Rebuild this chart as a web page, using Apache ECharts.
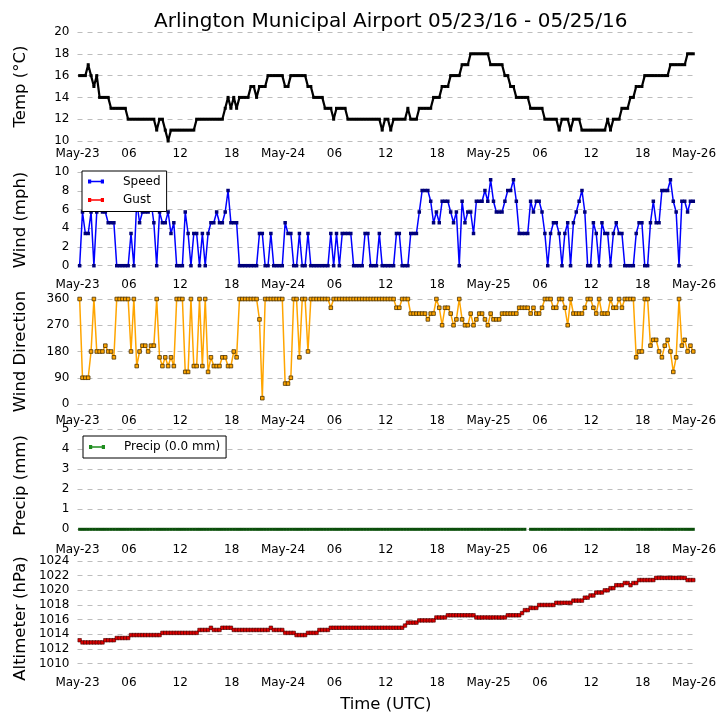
<!DOCTYPE html>
<html><head><meta charset="utf-8">
<script src="https://cdn.jsdelivr.net/npm/echarts@6/dist/echarts.min.js"></script>
<style>html,body{margin:0;padding:0;background:#fff}#c{width:727px;height:725px}</style>
</head><body><div id="c"></div>
<script>
// ---------------- DATA ----------------
// Observations every 20 minutes (AWOS :15, :35, :55) from May-23 00:15 UTC
const obsStartHour = 0.25;      // hours after 2016-05-23 00:00 UTC
const obsStepHour = 1 / 3;      // 20 minutes
const xTickLabels = ['May-23','06','12','18','May-24','06','12','18','May-25','06','12','18','May-26'];

const tempC = [
 16,16,16,17,16,15,16,14,14,14,
 14,13,13,13,13,13,13,12,12,12,
 12,12,12,12,12,12,12,11,12,12,
 11,10,11,11,11,11,11,11,11,11,
 11,12,12,12,12,12,12,12,12,12,
 12,13,14,13,14,13,14,14,14,14,
 15,15,14,15,15,15,16,16,16,16,
 16,16,15,15,16,16,16,16,16,16,
 15,15,14,14,14,14,13,13,13,12,
 13,13,13,13,12,12,12,12,12,12,
 12,12,12,12,12,12,11,12,12,11,
 12,12,12,12,12,13,12,12,12,13,
 13,13,13,13,14,14,14,15,15,15,
 16,16,16,16,17,17,17,18,18,18,
 18,18,18,18,17,17,17,17,17,16,
 16,15,15,14,14,14,14,14,13,13,
 13,13,13,12,12,12,12,12,11,12,
 12,12,11,12,12,12,11,11,11,11,
 11,11,11,11,11,12,11,12,12,12,
 13,13,13,14,14,15,15,15,16,16,
 16,16,16,16,16,16,16,17,17,17,
 17,17,17,18,18,18
];

const windSpeedMph = [
 0,5.75,3.45,3.45,5.75,0,5.75,6.9,5.75,5.75,
 4.6,4.6,4.6,0,0,0,0,0,3.45,0,
 6.9,4.6,5.75,5.75,5.75,6.9,4.6,0,5.75,4.6,
 4.6,5.75,3.45,4.6,0,0,0,5.75,3.45,0,
 3.45,3.45,0,3.45,0,3.45,4.6,4.6,5.75,4.6,
 4.6,5.75,8.05,4.6,4.6,4.6,0,0,0,0,
 0,0,0,3.45,3.45,0,0,3.45,0,0,
 0,0,4.6,3.45,3.45,0,0,3.45,0,0,
 3.45,0,0,0,0,0,0,0,3.45,0,
 3.45,0,3.45,3.45,3.45,3.45,0,0,0,0,
 3.45,3.45,0,0,0,3.45,0,0,0,0,
 0,3.45,3.45,0,0,0,3.45,3.45,3.45,5.75,
 8.05,8.05,8.05,6.9,4.6,5.75,4.6,6.9,6.9,6.9,
 5.75,4.6,5.75,0,6.9,4.6,5.75,5.75,3.45,6.9,
 6.9,6.9,8.05,6.9,9.2,6.9,5.75,5.75,5.75,6.9,
 8.05,8.05,9.2,6.9,3.45,3.45,3.45,3.45,6.9,5.75,
 6.9,6.9,5.75,3.45,0,3.45,4.6,4.6,3.45,0,
 3.45,4.6,0,4.6,5.75,6.9,8.05,5.75,0,0,
 4.6,3.45,0,4.6,3.45,3.45,0,3.45,4.6,3.45,
 3.45,0,0,0,0,3.45,4.6,4.6,0,0,
 4.6,6.9,4.6,4.6,8.05,8.05,8.05,9.2,6.9,5.75,
 0,6.9,6.9,5.75,6.9,6.9
];

const windGustMph = [];   // no gusts reported

const windDirDeg = [
 360,90,90,90,180,360,180,180,180,200,
 180,180,160,360,360,360,360,360,180,360,
 130,180,200,200,180,200,200,360,160,130,
 160,130,160,130,360,360,360,110,110,360,
 130,130,360,130,360,110,160,130,130,130,
 160,160,130,130,180,160,360,360,360,360,
 360,360,360,290,20,360,360,360,360,360,
 360,360,70,70,90,360,360,160,360,360,
 180,360,360,360,360,360,360,360,330,360,
 360,360,360,360,360,360,360,360,360,360,
 360,360,360,360,360,360,360,360,360,360,
 360,330,330,360,360,360,310,310,310,310,
 310,310,290,310,310,360,330,270,330,330,
 310,270,290,360,290,270,270,310,270,290,
 310,310,290,270,310,290,290,290,310,310,
 310,310,310,310,330,330,330,330,310,330,
 310,310,330,360,360,360,330,330,360,360,
 330,270,360,310,310,310,310,330,360,360,
 330,310,360,310,310,310,360,330,330,360,
 330,360,360,360,360,160,180,180,360,360,
 200,220,220,180,160,200,220,180,110,160,
 360,200,220,180,200,180
];

const precipMm = [
 0,0,0,0,0,0,0,0,0,0, 0,0,0,0,0,0,0,0,0,0,
 0,0,0,0,0,0,0,0,0,0, 0,0,0,0,0,0,0,0,0,0,
 0,0,0,0,0,0,0,0,0,0, 0,0,0,0,0,0,0,0,0,0,
 0,0,0,0,0,0,0,0,0,0, 0,0,0,0,0,0,0,0,0,0,
 0,0,0,0,0,0,0,0,0,0, 0,0,0,0,0,0,0,0,0,0,
 0,0,0,0,0,0,0,0,0,0, 0,0,0,0,0,0,0,0,0,0,
 0,0,0,0,0,0,0,0,0,0, 0,0,0,0,0,0,0,0,0,0,
 0,0,0,0,0,0,0,0,0,0, 0,0,0,0,0,0,0,null,0,0,
 0,0,0,0,0,0,0,0,0,0, 0,0,0,0,0,0,0,0,0,0,
 0,0,0,0,0,0,0,0,0,0, 0,0,0,0,0,0,0,0,0,0,
 0,0,0,0,0,0,0,0,0,0, 0,0,0,0,0,0
];
const precipTotalLabel = 'Precip (0.0 mm)';

const altimeterHpa = [
 1013.2,1012.9,1012.9,1012.9,1012.9,1012.9,1012.9,1012.9,1012.9,1013.2,
 1013.2,1013.2,1013.2,1013.5,1013.5,1013.5,1013.5,1013.5,1013.9,1013.9,
 1013.9,1013.9,1013.9,1013.9,1013.9,1013.9,1013.9,1013.9,1013.9,1014.2,
 1014.2,1014.2,1014.2,1014.2,1014.2,1014.2,1014.2,1014.2,1014.2,1014.2,
 1014.2,1014.2,1014.6,1014.6,1014.6,1014.6,1014.9,1014.6,1014.6,1014.6,
 1014.9,1014.9,1014.9,1014.9,1014.6,1014.6,1014.6,1014.6,1014.6,1014.6,
 1014.6,1014.6,1014.6,1014.6,1014.6,1014.6,1014.6,1014.9,1014.6,1014.6,
 1014.6,1014.6,1014.2,1014.2,1014.2,1014.2,1013.9,1013.9,1013.9,1013.9,
 1014.2,1014.2,1014.2,1014.2,1014.6,1014.6,1014.6,1014.6,1014.9,1014.9,
 1014.9,1014.9,1014.9,1014.9,1014.9,1014.9,1014.9,1014.9,1014.9,1014.9,
 1014.9,1014.9,1014.9,1014.9,1014.9,1014.9,1014.9,1014.9,1014.9,1014.9,
 1014.9,1014.9,1014.9,1014.9,1015.2,1015.6,1015.6,1015.6,1015.6,1015.9,
 1015.9,1015.9,1015.9,1015.9,1015.9,1016.3,1016.3,1016.3,1016.3,1016.6,
 1016.6,1016.6,1016.6,1016.6,1016.6,1016.6,1016.6,1016.6,1016.6,1016.3,
 1016.3,1016.3,1016.3,1016.3,1016.3,1016.3,1016.3,1016.3,1016.3,1016.3,
 1016.6,1016.6,1016.6,1016.6,1016.6,1016.9,1017.3,1017.3,1017.6,1017.6,
 1017.6,1018.0,1018.0,1018.0,1018.0,1018.0,1018.0,1018.3,1018.3,1018.3,
 1018.3,1018.3,1018.3,1018.6,1018.6,1018.6,1018.6,1019.0,1019.0,1019.3,
 1019.3,1019.7,1019.7,1019.7,1020.0,1020.0,1020.3,1020.3,1020.7,1020.7,
 1020.7,1021.0,1021.0,1020.7,1021.0,1021.0,1021.4,1021.4,1021.4,1021.4,
 1021.4,1021.4,1021.7,1021.7,1021.7,1021.7,1021.7,1021.7,1021.7,1021.7,
 1021.7,1021.7,1021.7,1021.4,1021.4,1021.4
];

// ---------------- CHART ----------------
const obsHours = tempC.map((_, i) => obsStartHour + i * obsStepHour);
const pairs = vals => vals.map((v, i) => [obsHours[i], v]);

const FONT = 'DejaVu Sans';
const GL = 77.5, GW = 616.5;
const panels = [
  {top: 32,    h: 109,   min: 10,   max: 20,   step: 2,  lm: 7,    title: 'Temp (°C)',       ty: 86.5},
  {top: 172.3, h: 93.4,  min: 0,    max: 10,   step: 2,  lm: 13.5, title: 'Wind (mph)',      ty: 220},
  {top: 299,   h: 105,   min: 0,    max: 360,  step: 90, lm: 10.5, title: 'Wind Direction',  ty: 351.5},
  {top: 429,   h: 100.3, min: 0,    max: 5,    step: 1,  lm: 15,   title: 'Precip (mm)',     ty: 485.5},
  {top: 561,   h: 102.7, min: 1010, max: 1024, step: 2,  lm: 13.5, title: 'Altimeter (hPa)', ty: 618.5}
];

const grid = panels.map(p => ({left: GL, top: p.top, width: GW, height: p.h, containLabel: false}));
const xAxis = panels.map((p, i) => ({
  type: 'value', gridIndex: i, min: 0, max: 72, interval: 6,
  axisLine: {show: false}, axisTick: {show: false}, splitLine: {show: false},
  axisLabel: {
    show: true, margin: p.lm, fontSize: 12, fontFamily: FONT, color: '#000',
    showMinLabel: true, showMaxLabel: true, hideOverlap: false,
    formatter: v => xTickLabels[Math.round(v / 6)] || ''
  }
}));
const yAxis = panels.map((p, i) => ({
  type: 'value', gridIndex: i, min: p.min, max: p.max, interval: p.step,
  axisLine: {show: false}, axisTick: {show: false},
  splitLine: {show: true, lineStyle: {color: '#bdbdbd', width: 1, type: [5, 5]}},
  axisLabel: {margin: 8, fontSize: 12, fontFamily: FONT, color: '#000', formatter: v => String(v)}
}));

const legendIcon = 'path://M0,0H8V10H0ZM4,3.1H36V6.9H4ZM32,0H40V10H32Z';

const series = [
  {name: 'Temp', type: 'line', xAxisIndex: 0, yAxisIndex: 0, data: pairs(tempC),
   symbol: 'rect', symbolSize: 3, clip: false,
   lineStyle: {color: '#000', width: 2.2}, itemStyle: {color: '#000'}},
  {name: 'Speed', type: 'line', xAxisIndex: 1, yAxisIndex: 1, data: pairs(windSpeedMph),
   symbol: 'rect', symbolSize: 3.5, clip: false,
   lineStyle: {color: '#0000ff', width: 1.5}, itemStyle: {color: '#00007a'}},
  {name: 'Gust', type: 'line', xAxisIndex: 1, yAxisIndex: 1, data: pairs(windGustMph),
   symbol: 'rect', symbolSize: 3.5, clip: false,
   lineStyle: {color: '#ff0000', width: 1.5}, itemStyle: {color: '#ff0000'}},
  {name: 'Direction', type: 'line', xAxisIndex: 2, yAxisIndex: 2, data: pairs(windDirDeg),
   symbol: 'rect', symbolSize: 3.6, clip: false,
   lineStyle: {color: '#ffa500', width: 1.5},
   itemStyle: {color: '#ffa500', borderColor: '#4d3200', borderWidth: 0.8}},
  {name: precipTotalLabel, type: 'line', xAxisIndex: 3, yAxisIndex: 3, data: pairs(precipMm),
   symbol: 'rect', symbolSize: 3, clip: false, connectNulls: false,
   lineStyle: {color: '#1e8c1e', width: 2}, itemStyle: {color: '#0b4d0b'}},
  {name: 'Altimeter', type: 'line', xAxisIndex: 4, yAxisIndex: 4, data: pairs(altimeterHpa),
   symbol: 'rect', symbolSize: 3.5, clip: false,
   lineStyle: {color: '#ff0000', width: 2},
   itemStyle: {color: '#e00000', borderColor: '#400000', borderWidth: 0.6}}
];

const legendCommon = {
  orient: 'vertical', backgroundColor: '#fff', borderColor: '#000', borderWidth: 1, borderRadius: 0,
  itemWidth: 20, itemHeight: 4, icon: legendIcon, selectedMode: false,
  textStyle: {fontSize: 12, fontFamily: FONT, color: '#000', padding: [0, 0, 0, 12], lineHeight: 12}
};
const legend = [
  Object.assign({}, legendCommon, {
    left: 82, top: 171, padding: [4.5, 6, 5.5, 6], itemGap: 6.5,
    data: [{name: 'Speed', itemStyle: {color: '#0000ff'}}, {name: 'Gust', itemStyle: {color: '#ff0000'}}]
  }),
  Object.assign({}, legendCommon, {
    left: 83, top: 436, padding: [5, 6, 5, 6],
    data: [{name: precipTotalLabel, itemStyle: {color: '#1e8c1e'}}]
  })
];

const graphic = panels.map(p => ({
  type: 'text', x: 21, y: p.ty, rotation: Math.PI / 2, z: 10,
  style: {text: p.title, fontSize: 16.5, fontFamily: FONT, fill: '#000',
          align: 'center', verticalAlign: 'middle', textAlign: 'center', textVerticalAlign: 'middle'}
}));
graphic.push({
  type: 'text', x: GL + GW / 2, y: 705, z: 10,
  style: {text: 'Time (UTC)', fontSize: 16.5, fontFamily: FONT, fill: '#000',
          align: 'center', verticalAlign: 'middle', textAlign: 'center', textVerticalAlign: 'middle'}
});

const chart = echarts.init(document.getElementById('c'), null, {renderer: 'canvas'});
chart.setOption({
  animation: false,
  backgroundColor: '#fff',
  title: {
    text: 'Arlington Municipal Airport 05/23/16 - 05/25/16',
    left: GL + GW / 2, top: 7, textAlign: 'center',
    textStyle: {fontSize: 20, fontWeight: 'normal', fontFamily: FONT, color: '#000'}
  },
  grid, xAxis, yAxis, series, legend, graphic
});
</script>
</body></html>
